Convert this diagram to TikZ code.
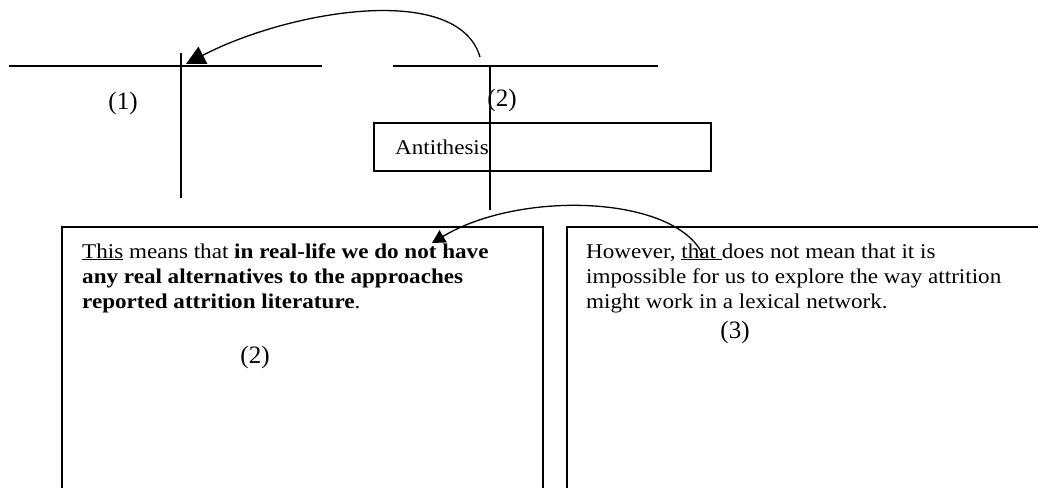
\documentclass[tikz,border=0pt]{standalone}
\usepackage{fontspec}
\setmainfont{Liberation Serif}[FakeStretch=1.1]
\newfontfamily\numfont{Liberation Serif}
\usetikzlibrary{arrows.meta}
\begin{document}
\begin{tikzpicture}[x=1pt,y=-1pt,
  rule/.style={line width=1.5pt},
  frame/.style={draw, line width=1.5pt, inner sep=0pt, anchor=north west},
  lbl/.style={inner sep=0pt, anchor=base, font=\numfont\fontsize{25}{30}\selectfont},
  para/.style={inner sep=0pt, anchor=base west, align=left},
  link/.style={line width=1.3pt},
  font=\fontsize{21}{25}\selectfont]
\useasboundingbox[fill=white] (0,0) rectangle (1038,487);

% the two crossed rules of segments (1) and (2)
\coordinate (h1w) at (9,66);   \coordinate (h1e) at (322,66);
\coordinate (v1n) at (181,53); \coordinate (v1s) at (181,198);
\coordinate (h2w) at (393,66); \coordinate (h2e) at (658,66);
\coordinate (v2n) at (490,66); \coordinate (v2s) at (490,210);

% relation label box
\node[frame, minimum width=337, minimum height=48] (anti) at (373,122) {};
\node[inner sep=0pt, anchor=base west] (antitext) at (395,154) {Antithesis};

\draw[rule] (h1w) -- (h1e);
\draw[rule] (v1n) -- (v1s);
\draw[rule] (h2w) -- (h2e);
\draw[rule] (v2n) -- (v2s);

\node[lbl] (lab1) at (123,109) {(1)};
\node[lbl] (lab2) at (502,106) {(2)};

% text segments
\node[frame, minimum width=481, minimum height=300] (leftbox) at (61,226) {};
\node[frame, minimum width=500, minimum height=300] (rightbox) at (566,226) {};

% a multi-line node sits on the baseline of its last line
\node[para] (lefttext) at (82,308) {\underline{This} means that \textbf{in real-life we do not have}\\
  \textbf{any real alternatives to the approaches}\\
  \textbf{reported attrition literature}.};
\node[para] (righttext) at (586,308) {However, \underline{that\ }does not mean that it is\\
  impossible for us to explore the way attrition\\
  might work in a lexical network.};

\node[lbl] (lab2b) at (255,363) {(2)};
\node[lbl] (lab3) at (735,338) {(3)};

% reference links
\coordinate (src1) at (480,57);  \coordinate (tgt1) at (186,64);
\coordinate (src2) at (703,255); \coordinate (tgt2) at (432,243);
\draw[link, -{Triangle[length=19pt,width=19pt]}] (src1) .. controls (458,-18) and (290,10) .. (tgt1);
\draw[link, -{Triangle[length=13pt,width=14pt]}] (src2) .. controls (675,195) and (520,190) .. (tgt2);
\end{tikzpicture}
\end{document}
